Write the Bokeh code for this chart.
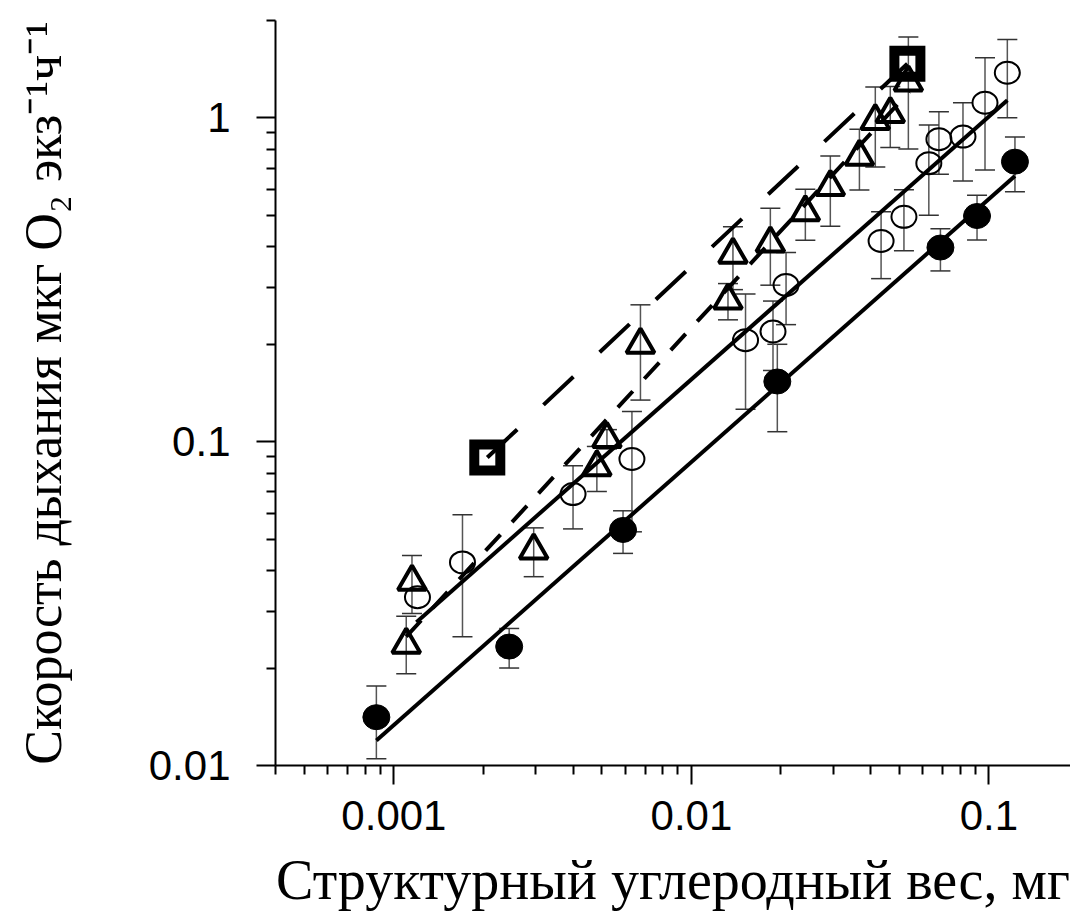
import math
from bokeh.plotting import figure
from bokeh.models import (ColumnDataSource, Whisker, TeeHead, Range1d,
                          FixedTicker, CustomJSTickFormatter)
from bokeh.embed import file_html
from bokeh.resources import INLINE

# ---------------- data ----------------
filled_x = [0.000873, 0.00244, 0.00589, 0.01944, 0.0687, 0.0912, 0.1223]
filled_y = [0.0141, 0.0233, 0.0534, 0.1535, 0.398, 0.498, 0.733]
filled_lo = [0.0105, 0.0200, 0.0452, 0.1074, 0.337, 0.420, 0.592]
filled_hi = [0.0176, 0.0265, 0.0612, 0.200, 0.455, 0.577, 0.874]

open_x = [0.0012, 0.0017, 0.0040, 0.00631, 0.0152, 0.0188, 0.0208, 0.0434,
          0.0518, 0.0628, 0.0679, 0.0818, 0.097, 0.1153]
open_y = [0.0331, 0.0424, 0.0689, 0.0884, 0.206, 0.219, 0.305, 0.417,
          0.495, 0.725, 0.86, 0.876, 1.115, 1.38]
open_lo = [None, 0.0250, 0.0538, 0.0527, 0.126, 0.166, 0.230, 0.319,
           0.389, 0.501, 0.670, 0.639, 0.691, 1.002]
open_hi = [None, 0.0595, 0.0843, 0.124, 0.286, 0.272, 0.384, 0.513,
           0.600, 0.951, 1.046, 1.115, 1.535, 1.749]

tri_x = [0.0011, 0.00115, 0.00295, 0.00481, 0.0052, 0.00674, 0.01327, 0.01379,
         0.01842, 0.02415, 0.0293, 0.0367, 0.0415, 0.0466, 0.0536]
tri_y = [0.0236, 0.037, 0.0462, 0.0835, 0.102, 0.1996, 0.273, 0.378,
         0.410, 0.512, 0.612, 0.76, 0.979, 1.03, 1.287]
tri_lo = [0.0192, 0.0295, 0.0383, 0.0702, 0.095, 0.1345, 0.238, 0.295,
          0.3045, 0.4195, 0.463, 0.5995, 0.706, 0.81, 0.802]
tri_hi = [0.0289, 0.0445, 0.0542, 0.0967, 0.109, 0.2648, 0.308, 0.461,
          0.5264, 0.6025, 0.7634, 0.923, 1.246, 1.25, 1.778]

sq_x = [0.00206, 0.0532]
sq_y = [0.0894, 1.47]

fit_filled_x = [0.000873, 0.1223]
fit_filled_y = [0.01195, 0.662]
fit_open_x = [0.00119, 0.1153]
fit_open_y = [0.0277, 1.134]
fit_tri_x = [0.0011, 0.054]
fit_tri_y = [0.025, 1.206]

x_major = [0.001, 0.01, 0.1]
y_major = [0.01, 0.1, 1]

x_label = "Структурный углеродный вес, мг"
y_label = "Скорость дыхания мкг O\u2082 экз\u207b\u00b9ч\u207b\u00b9"

# ---------------- figure ----------------
p = figure(width=1070, height=913, x_axis_type="log", y_axis_type="log",
           x_range=Range1d(0.0003999, 0.188), y_range=Range1d(0.01, 2.0005),
           output_backend="svg", toolbar_location=None,
           min_border_left=275, min_border_right=0, min_border_top=20,
           min_border_bottom=148)
p.outline_line_color = None
p.xgrid.visible = False
p.ygrid.visible = False
p.background_fill_color = "white"
p.border_fill_color = "white"

def minors(decades):
    return [m * 10.0 ** e for e in decades for m in range(2, 10)]

p.xaxis.ticker = FixedTicker(ticks=x_major, minor_ticks=minors([-4, -3, -2, -1]))
p.yaxis.ticker = FixedTicker(ticks=y_major, minor_ticks=minors([-2, -1, 0]))
fmt = CustomJSTickFormatter(code="return tick.toString();")
p.xaxis.formatter = fmt
p.yaxis.formatter = fmt

for ax in (p.xaxis[0], p.yaxis[0]):
    ax.axis_line_color = "black"
    ax.axis_line_width = 2
    ax.major_tick_line_color = "black"
    ax.minor_tick_line_color = "black"
    ax.major_tick_line_width = 2
    ax.minor_tick_line_width = 2
    ax.major_tick_out = 19
    ax.major_tick_in = 0
    ax.minor_tick_out = 9
    ax.minor_tick_in = 0
    ax.major_label_text_font = "Liberation Sans"
    ax.major_label_text_font_size = "42px"
    ax.major_label_text_color = "black"
    ax.axis_label_text_font = "Liberation Serif"
    ax.axis_label_text_font_style = "normal"
    ax.axis_label_text_color = "black"
p.xaxis.major_label_standoff = 16
p.yaxis.major_label_standoff = 26

p.xaxis.axis_label = x_label
p.xaxis.axis_label_text_font_size = "56px"
p.xaxis.axis_label_standoff = 16
p.yaxis.axis_label = y_label
p.yaxis.axis_label_text_font_size = "52px"
p.yaxis.axis_label_standoff = 74

# ---------------- fit lines ----------------
p.line(fit_filled_x, fit_filled_y, line_color="black", line_width=4)
p.line(fit_open_x, fit_open_y, line_color="black", line_width=4)
p.line(fit_tri_x, fit_tri_y, line_color="black", line_width=4, line_dash="22 17")
p.line(sq_x, sq_y, line_color="black", line_width=4, line_dash="41 36")

# ---------------- error bars ----------------
def add_whiskers(xs, lo, hi):
    b, l, u = [], [], []
    for x, a, c in zip(xs, lo, hi):
        if a is None or c is None:
            continue
        b.append(x); l.append(a); u.append(c)
    src = ColumnDataSource(dict(base=b, lower=l, upper=u))
    w = Whisker(source=src, base="base", lower="lower", upper="upper",
                dimension="height", line_color="#555555", line_width=1.5,
                level="underlay",
                upper_head=TeeHead(size=20, line_color="#333333", line_width=1.5),
                lower_head=TeeHead(size=20, line_color="#333333", line_width=1.5))
    p.add_layout(w)

add_whiskers(filled_x, filled_lo, filled_hi)
add_whiskers(open_x, open_lo, open_hi)
add_whiskers(tri_x, tri_lo, tri_hi)

# ---------------- markers ----------------
p.ellipse(filled_x, filled_y, width=27, height=25, width_units="screen",
          height_units="screen", fill_color="black", line_color="black")
p.ellipse(open_x, open_y, width=25, height=22, width_units="screen",
          height_units="screen", fill_color=None, line_color="black", line_width=2)
p.scatter(tri_x, tri_y, marker="triangle", size=28, fill_color=None,
          line_color="black", line_width=4)
p.scatter(sq_x, sq_y, marker="square", size=26, fill_color=None,
          line_color="black", line_width=10, line_join="miter")

open("out.html", "w").write(file_html(p, INLINE))
